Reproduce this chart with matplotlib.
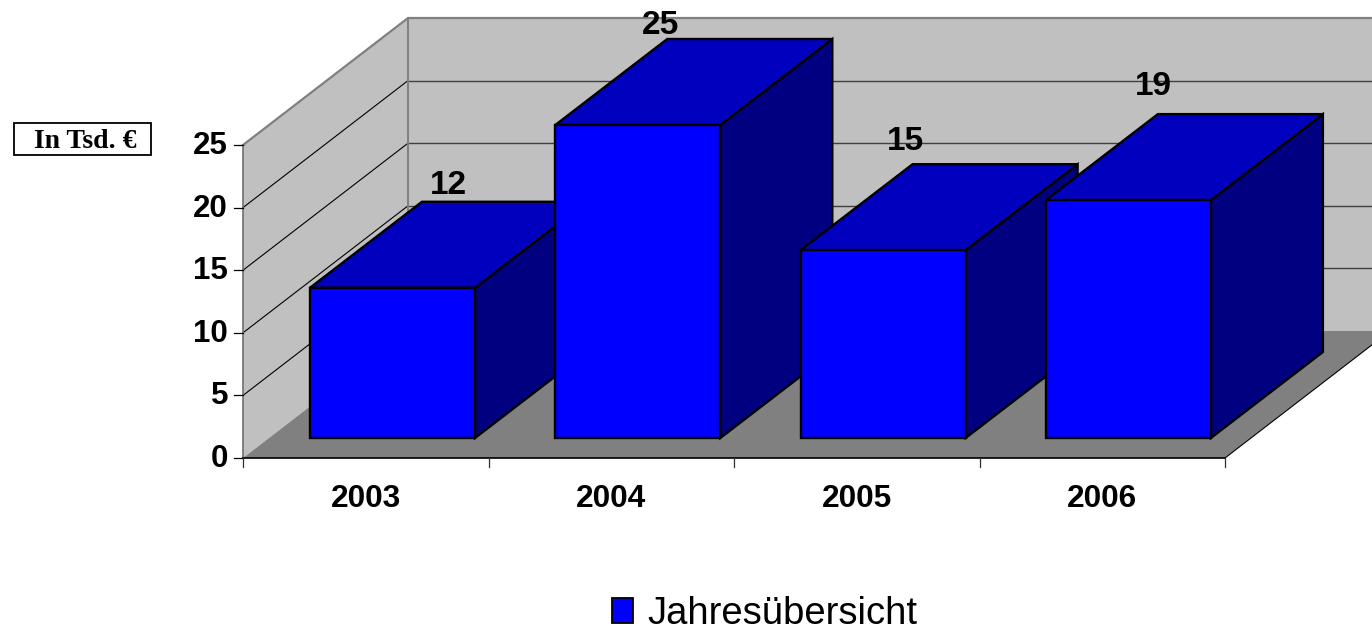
import matplotlib
matplotlib.use('Agg')
import matplotlib.pyplot as plt
from matplotlib.patches import Polygon, Rectangle, Patch

years = ['2003', '2004', '2005', '2006']
values = [12, 25, 15, 19]
y_ticks = [0, 5, 10, 15, 20, 25]
series_name = 'Jahresübersicht'
unit_label = 'In Tsd. €'

# Layout of the fake 3D box, in pixels
X0, Y0 = 243, 458        # front left corner of the floor
SLOT = 245.5             # width of one category
UNIT = 12.52             # height of one value unit
WALL_DX, WALL_DY = 165, 127
BAR_W = 165
BAR_X0 = 67              # first bar, from X0
BAR_STEP = 245.3
BAR_LIFT = 20            # bar foot above the floor front edge
BAR_DX, BAR_DY = 112, 86

# the labels were placed by hand in the original, offsets from the bar's top left
LABEL_DX = [138, 105, 105, 107]
LABEL_DY = [102, 99, 109, 114]

FRONT, TOP, SIDE = '#0000FF', '#0000BE', '#000080'
WALL, FLOOR = '#C0C0C0', '#808080'


def vy(v):
    return Y0 - v * UNIT


def main():
    plt.rcParams['font.family'] = ['Liberation Sans', 'DejaVu Sans']
    fig = plt.figure(figsize=(13.72, 6.29), dpi=100)
    ax = fig.add_axes([0, 0, 1, 1])
    ax.set_xlim(0, 1372)
    ax.set_ylim(629, 0)
    ax.axis('off')

    x_end = X0 + SLOT * len(years) - 0
    top = vy(max(y_ticks))

    # walls and floor
    ax.add_patch(Polygon([(X0, Y0), (X0, top), (X0 + WALL_DX, top - WALL_DY), (X0 + WALL_DX, Y0 - WALL_DY)],
                         fc=WALL, ec='none', zorder=1))
    ax.add_patch(Polygon([(X0 + WALL_DX, Y0 - WALL_DY), (X0 + WALL_DX, top - WALL_DY),
                          (x_end + WALL_DX, top - WALL_DY), (x_end + WALL_DX, Y0 - WALL_DY)],
                         fc=WALL, ec='none', zorder=1))

    # gridlines
    for t in y_ticks[1:-1]:
        ax.plot([X0, X0 + WALL_DX], [vy(t), vy(t) - WALL_DY], color='black', lw=0.8, zorder=2)
        ax.plot([X0 + WALL_DX, x_end + WALL_DX], [vy(t) - WALL_DY] * 2, color='#404040', lw=1.0, zorder=2)
    ax.plot([X0, X0 + WALL_DX, x_end + WALL_DX], [top, top - WALL_DY, top - WALL_DY], color='#808080', lw=1.6, zorder=2)
    ax.plot([X0 + WALL_DX, X0 + WALL_DX], [top - WALL_DY, Y0 - WALL_DY], color='#808080', lw=1.4, zorder=2)
    ax.plot([X0, X0], [top, Y0], color='#707070', lw=1.2, zorder=2)

    ax.add_patch(Polygon([(X0, Y0), (x_end, Y0), (x_end + WALL_DX, Y0 - WALL_DY), (X0 + WALL_DX, Y0 - WALL_DY)],
                         fc=FLOOR, ec='none', zorder=2.5))

    # axis lines and ticks
    ax.plot([X0, x_end], [Y0, Y0], color='black', lw=1.2, zorder=3)
    ax.plot([x_end, x_end + WALL_DX], [Y0, Y0 - WALL_DY], color='black', lw=0.8, zorder=3)
    for t in y_ticks:
        ax.plot([X0 - 9, X0], [vy(t), vy(t)], color='black', lw=0.9, zorder=3)
        ax.text(X0 - 15, vy(t) + 1, str(t), ha='right', va='center', fontsize=22.5, fontweight='bold')
    for i in range(len(years) + 1):
        ax.plot([X0 + SLOT * i] * 2, [Y0, Y0 + 9], color='#303030', lw=0.9, zorder=3)
    for i, year in enumerate(years):
        ax.text(X0 + SLOT * (i + 0.5), 499, year, ha='center', va='center', fontsize=22.8, fontweight='bold')

    # bars, left to right so the later ones cover the earlier ones
    foot = Y0 - BAR_LIFT
    for i, v in enumerate(values):
        x = X0 + BAR_X0 + BAR_STEP * i
        head = foot - v * UNIT
        z = 4 + i
        ax.add_patch(Polygon([(x + BAR_W, foot), (x + BAR_W, head), (x + BAR_W + BAR_DX, head - BAR_DY),
                              (x + BAR_W + BAR_DX, foot - BAR_DY)], fc=SIDE, ec='black', lw=1.7, zorder=z))
        ax.add_patch(Polygon([(x, head), (x + BAR_W, head), (x + BAR_W + BAR_DX, head - BAR_DY),
                              (x + BAR_DX, head - BAR_DY)], fc=TOP, ec='black', lw=1.7, zorder=z))
        ax.add_patch(Rectangle((x, head), BAR_W, foot - head, fc=FRONT, ec='black', lw=1.7, zorder=z))

    for i, v in enumerate(values):
        x = X0 + BAR_X0 + BAR_STEP * i
        head = foot - v * UNIT
        ax.text(x + LABEL_DX[i], head - LABEL_DY[i], str(v), ha='center', va='center',
                fontsize=24, fontweight='bold', zorder=10)

    # unit box
    ax.add_patch(Rectangle((14, 123), 137, 32, fc='white', ec='black', lw=1.3))
    ax.text(85.5, 141, unit_label, ha='center', va='center', fontsize=20, fontweight='bold',
            family=['Liberation Serif', 'DejaVu Serif'])

    handle = Patch(fc=FRONT, ec='black', lw=1.3, label=series_name)
    ax.legend(handles=[handle], loc='center', bbox_to_anchor=(765, 614), bbox_transform=ax.transData,
              frameon=False, fontsize=27.5, handlelength=0.55, handleheight=0.62, handletextpad=0.38,
              borderpad=0, borderaxespad=0)

    fig.savefig('out.png', dpi=100)


if __name__ == '__main__':
    main()
